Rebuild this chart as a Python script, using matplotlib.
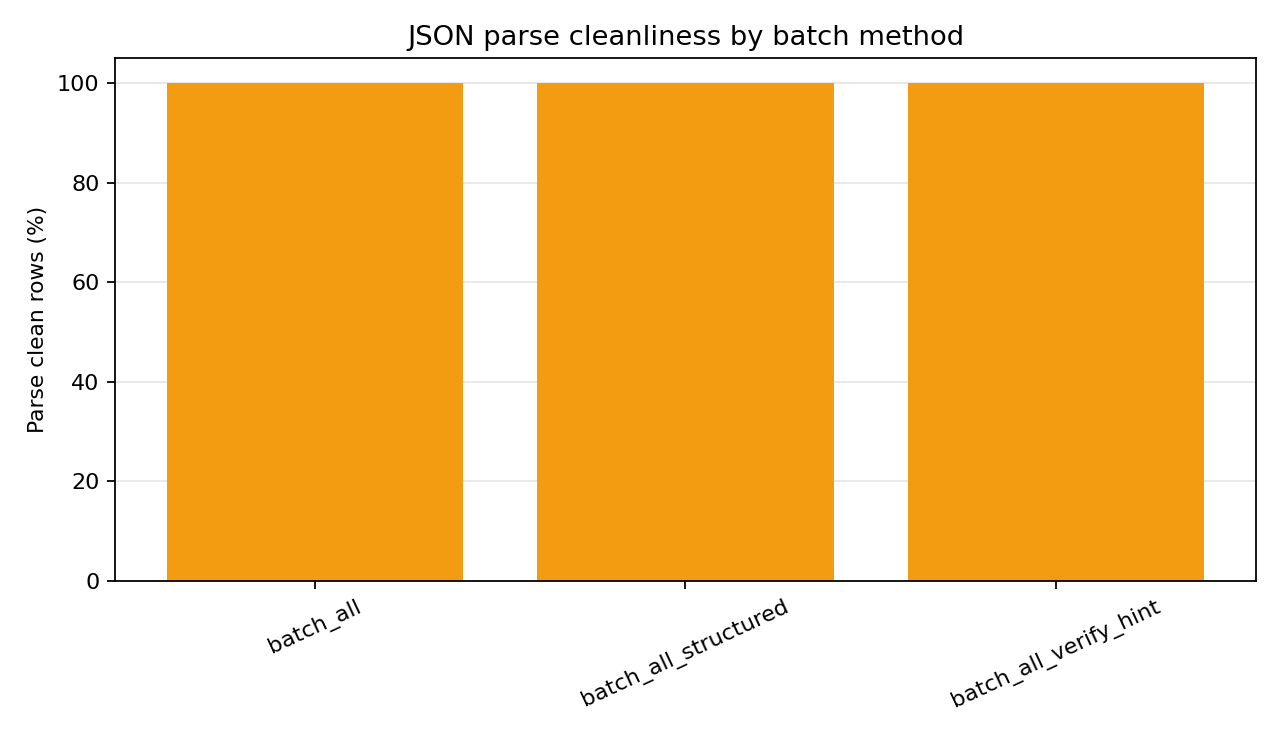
import matplotlib
matplotlib.use("Agg")
import matplotlib.pyplot as plt

# Data
methods = ["batch_all", "batch_all_structured", "batch_all_verify_hint"]
parse_clean_pct = [100.0, 100.0, 100.0]

fig, ax = plt.subplots(figsize=(8, 4.6), dpi=160)
ax.bar(methods, parse_clean_pct, color="#f39c12", width=0.8)
ax.set_title("JSON parse cleanliness by batch method", fontsize=12.3)
ax.set_ylabel("Parse clean rows (%)", fontsize=9.8)
ax.set_ylim(0, 105)
ax.grid(axis="y", alpha=0.3)
ax.set_axisbelow(True)
plt.setp(ax.get_xticklabels(), rotation=25)
fig.subplots_adjust(left=0.0898, right=0.9812, top=0.9212, bottom=0.2106)
fig.savefig("out.png", dpi=160)
